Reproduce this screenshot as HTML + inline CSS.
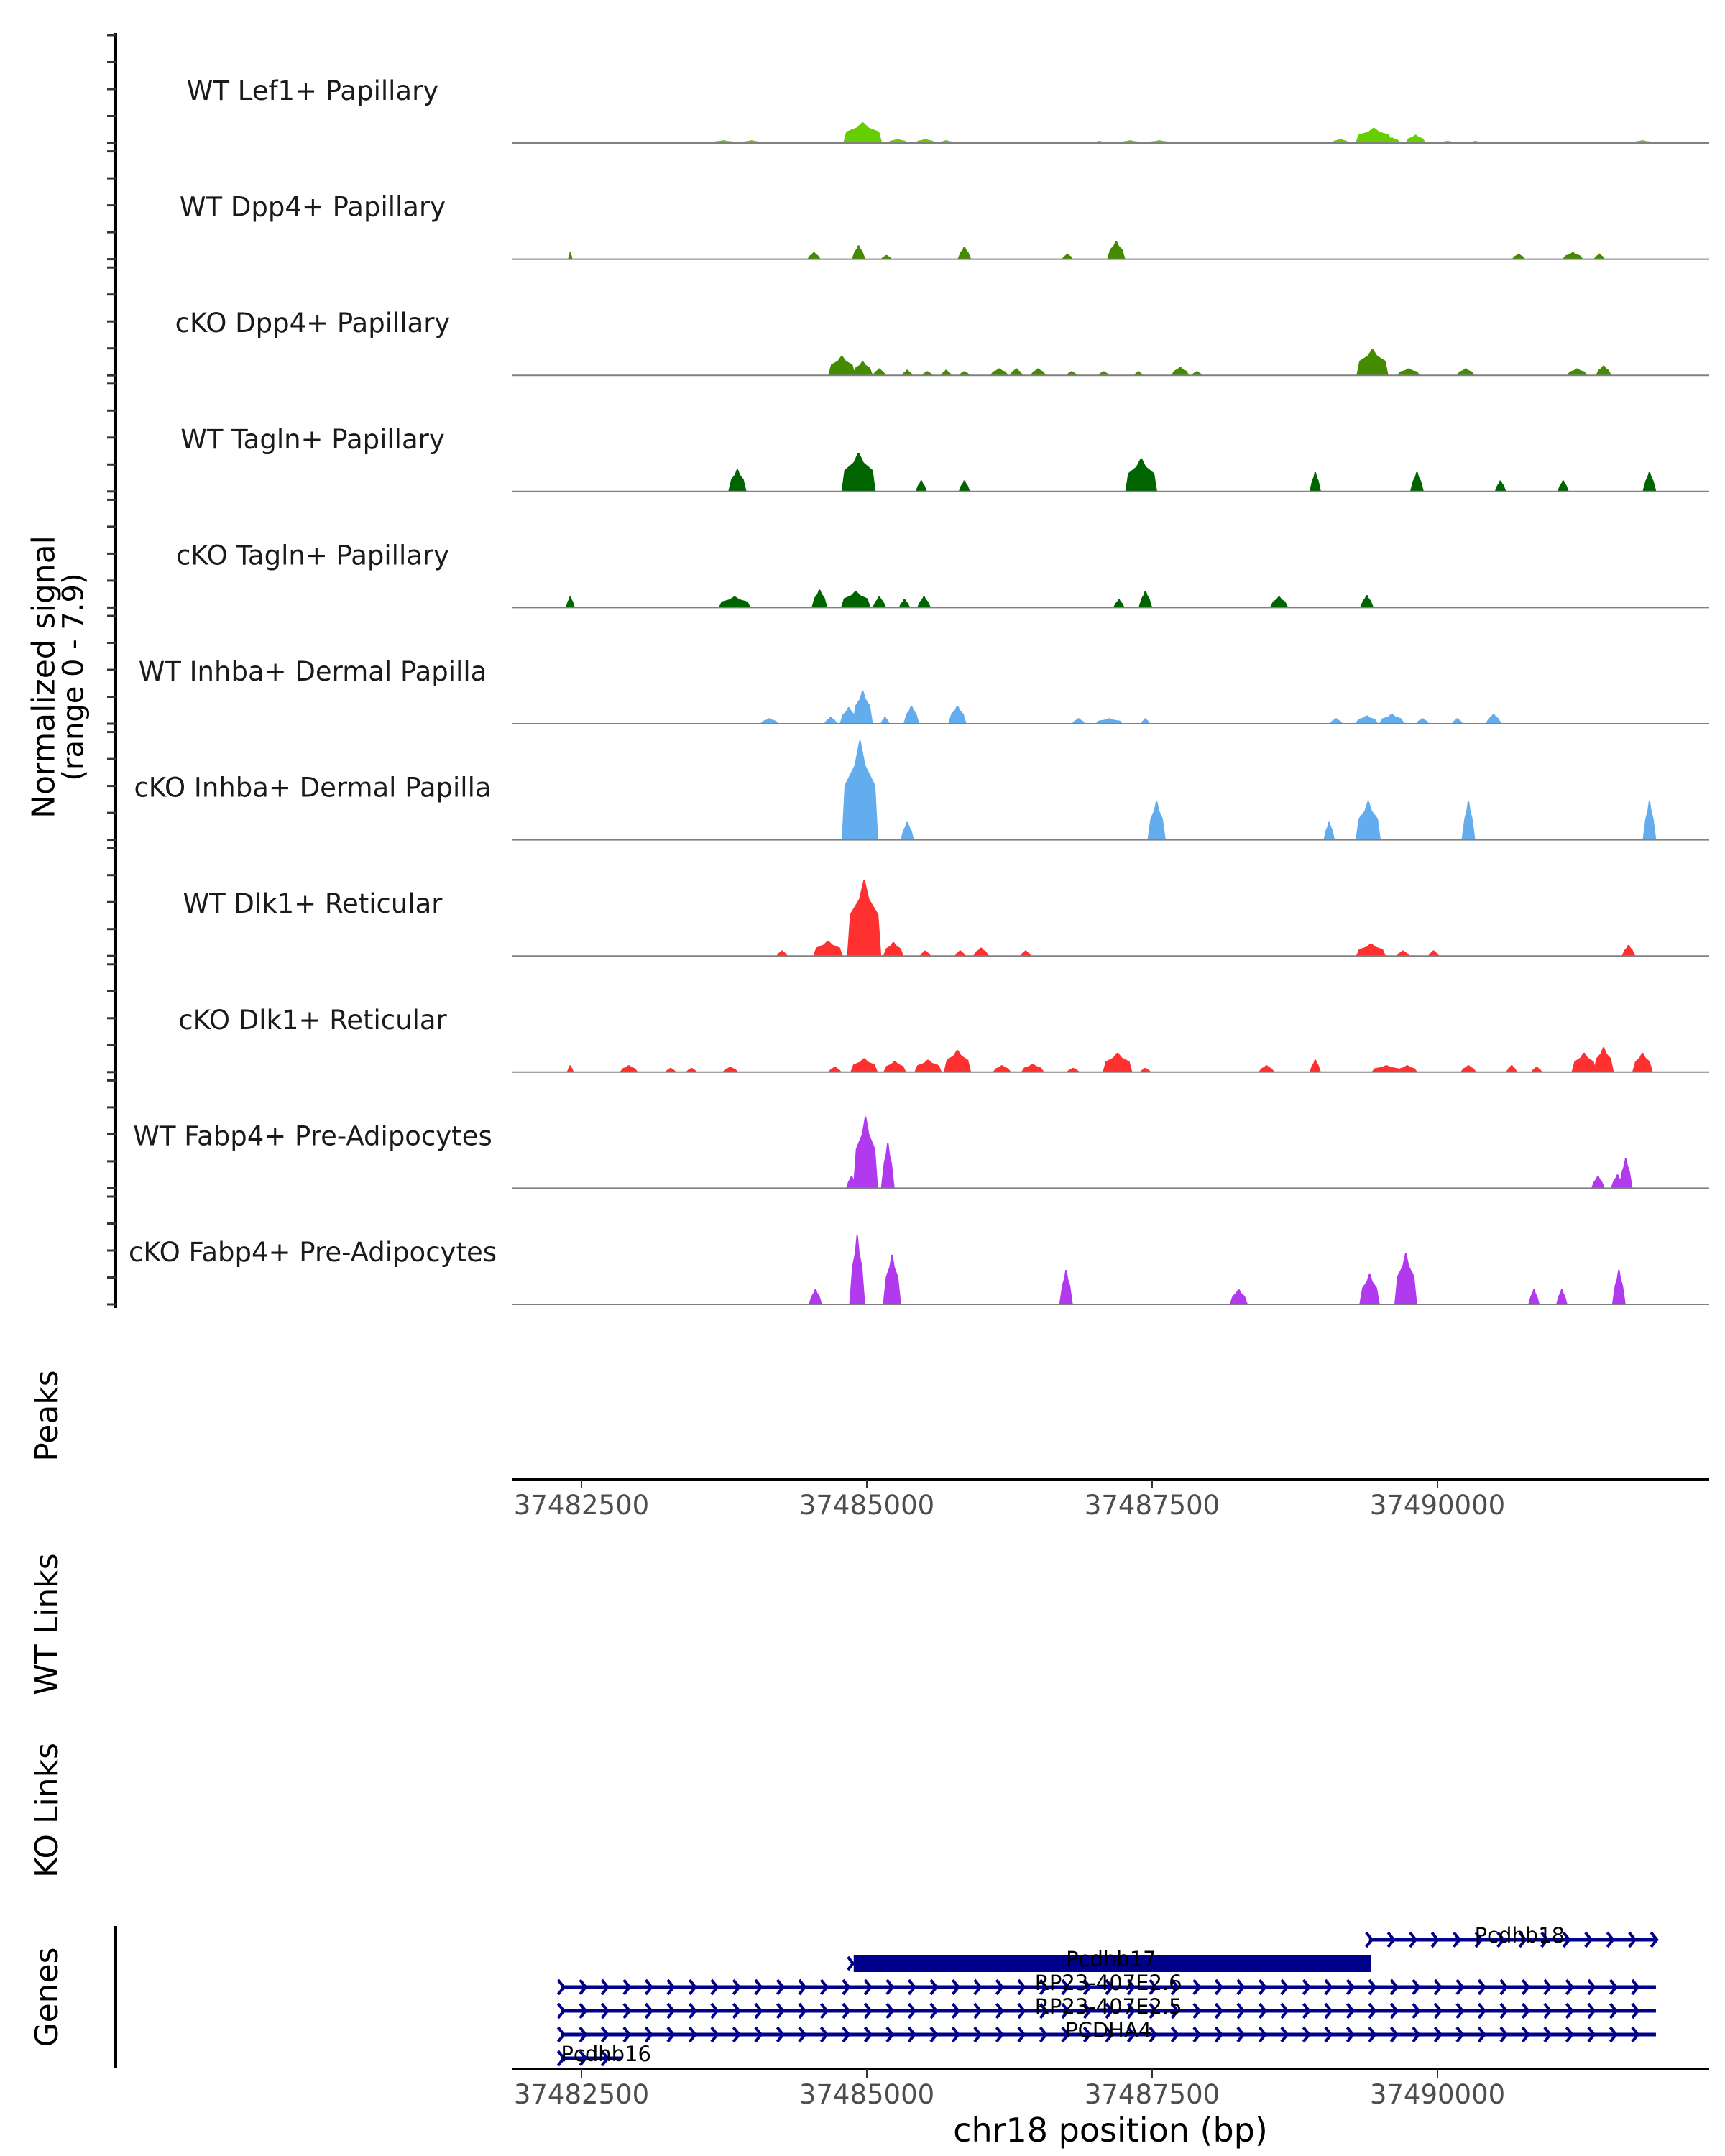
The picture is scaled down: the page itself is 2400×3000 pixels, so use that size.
<!DOCTYPE html>
<html><head><meta charset="utf-8"><style>
html,body{margin:0;padding:0;background:#fff;}
svg{display:block;font-family:"DejaVu Sans","Liberation Sans",sans-serif;}
</style></head><body>
<svg id="chart" width="2400" height="3000" viewBox="0 0 2400 3000" xmlns="http://www.w3.org/2000/svg">
<g id="tracks"></g>
<g id="axes"></g>
<g id="genes"></g>
</svg>
<script>
const trackNames = ["WT Lef1+ Papillary","WT Dpp4+ Papillary","cKO Dpp4+ Papillary","WT Tagln+ Papillary","cKO Tagln+ Papillary","WT Inhba+ Dermal Papilla","cKO Inhba+ Dermal Papilla","WT Dlk1+ Reticular","cKO Dlk1+ Reticular","WT Fabp4+ Pre-Adipocytes","cKO Fabp4+ Pre-Adipocytes"];
const trackColors = ["#66CD00","#458B00","#458B00","#006400","#006400","#63ADEE","#63ADEE","#FF3030","#FF3030","#B23AEE","#B23AEE"];
// peaks: [center bp, half-width bp, value]
const lef1WT = [[37483744,110,0.2],[37483990,90,0.2],[37484964,170,1.5],[37485270,90,0.3],[37485513,90,0.3],[37485696,70,0.2],[37486733,60,0.1],[37487038,70,0.15],[37487307,90,0.2],[37487563,100,0.2],[37488136,60,0.1],[37488319,60,0.1],[37489149,80,0.3],[37489442,160,1.1],[37489600,80,0.4],[37489808,90,0.6],[37490088,110,0.15],[37490332,80,0.15],[37490820,60,0.1],[37491003,60,0.1],[37491796,90,0.2]];
const dpp4WT = [[37482402,20,0.5],[37484537,60,0.5],[37484928,60,1.0],[37485172,50,0.3],[37485855,60,0.9],[37486758,50,0.4],[37487185,80,1.3],[37490711,60,0.4],[37491186,90,0.5],[37491418,50,0.4]];
const dpp4KO = [[37484781,120,1.4],[37484964,90,1.0],[37485110,60,0.5],[37485355,50,0.4],[37485530,50,0.3],[37485696,50,0.4],[37485855,50,0.3],[37486160,80,0.5],[37486310,60,0.5],[37486502,70,0.5],[37486795,50,0.3],[37487075,50,0.3],[37487380,40,0.3],[37487746,80,0.6],[37487892,50,0.3],[37489430,140,1.9],[37489747,100,0.5],[37490247,80,0.5],[37491223,90,0.5],[37491455,70,0.7]];
const taglnWT = [[37483866,80,1.6],[37484928,150,2.8],[37485477,50,0.8],[37485855,50,0.8],[37487404,140,2.4],[37488929,50,1.4],[37489820,60,1.4],[37490552,50,0.8],[37491101,50,0.8],[37491857,60,1.4]];
const taglnKO = [[37482402,40,0.8],[37483842,140,0.8],[37484586,70,1.3],[37484903,130,1.2],[37485110,60,0.8],[37485330,50,0.6],[37485501,60,0.8],[37487209,50,0.6],[37487441,60,1.2],[37488612,80,0.8],[37489381,60,0.9]];
const inhbaWT = [[37484147,80,0.4],[37484684,60,0.5],[37484842,80,1.2],[37484964,90,2.4],[37485160,40,0.5],[37485391,70,1.3],[37485794,80,1.3],[37486855,60,0.4],[37487124,120,0.4],[37487441,40,0.4],[37489112,60,0.4],[37489380,100,0.6],[37489600,110,0.7],[37489869,60,0.4],[37490174,50,0.4],[37490491,70,0.7]];
const inhbaKO = [[37484940,160,7.2],[37485355,60,1.3],[37487539,80,2.8],[37489051,50,1.3],[37489393,110,2.8],[37490271,60,2.8],[37491857,60,2.8]];
const dlk1WT = [[37484257,50,0.4],[37484660,130,1.1],[37484977,150,5.5],[37485233,90,1.0],[37485513,50,0.4],[37485818,50,0.4],[37486001,70,0.6],[37486392,50,0.4],[37489417,130,0.9],[37489698,60,0.4],[37489966,50,0.4],[37491674,60,0.8]];
const dlk1KO = [[37482402,30,0.5],[37482915,80,0.5],[37483281,50,0.3],[37483464,50,0.3],[37483805,70,0.4],[37484720,60,0.4],[37484976,120,1.0],[37485245,100,0.8],[37485537,120,0.9],[37485794,120,1.6],[37486184,80,0.5],[37486453,100,0.6],[37486807,60,0.3],[37487197,130,1.4],[37487441,50,0.3],[37488502,70,0.5],[37488929,50,0.9],[37489552,130,0.5],[37489735,90,0.5],[37490271,70,0.5],[37490650,50,0.5],[37490869,50,0.4],[37491284,110,1.4],[37491455,90,1.8],[37491796,90,1.4]];
const fabp4WT = [[37484867,50,0.9],[37484989,110,5.2],[37485184,60,3.3],[37491406,60,0.9],[37491577,60,1.0],[37491650,60,2.2]];
const fabp4KO = [[37484550,60,1.1],[37484916,70,5.0],[37485221,80,3.6],[37486746,60,2.5],[37488258,80,1.1],[37489405,90,2.2],[37489722,100,3.7],[37490845,50,1.1],[37491089,50,1.1],[37491589,60,2.5]];
const trackPeaks = [lef1WT,dpp4WT,dpp4KO,taglnWT,taglnKO,inhbaWT,inhbaKO,dlk1WT,dlk1KO,fabp4WT,fabp4KO];
const xTicks = [37482500,37485000,37487500,37490000];
const geneNames = ["Pcdhb18","Pcdhb17","RP23-407E2.6","RP23-407E2.5","PCDHA4","Pcdhb16"];
const geneStarts = [37489400,37484860,37482320,37482320,37482320,37482320];
const geneEnds = [37491914,37489420,37491914,37491914,37491914,37482860];

const NS="http://www.w3.org/2000/svg";
const X0=712,X1=2378, bp0=37482500, pxPerBp=397/2500, refX=809;
function xs(bp){return refX+(bp-bp0)*pxPerBp;}
const base0=199, trackStep=161.6, pxPerUnit=19.2;
function ys(i,v){return base0+i*trackStep - v*pxPerUnit;}
function mk(tag,attrs,parent){const e=document.createElementNS(NS,tag);for(const k in attrs)e.setAttribute(k,attrs[k]);parent.appendChild(e);return e;}

const T=document.getElementById('tracks');
trackNames.forEach((name,i)=>{
  const g=mk('g',{},T);
  
  
  const lbl=mk('text',{x:435,y:ys(i,0)-60,'text-anchor':'middle','font-size':37,fill:'#1a1a1a'},g);
  lbl.textContent=name;
  
  
  trackPeaks[i].forEach(p=>{
    const c=p[0],hw=p[1],v=p[2];
    const a=xs(c-hw),b=xs(c+hw),cx=xs(c),w=b-a,t=Math.min(4,w/5);
    const y0=ys(i,0);
    const pts=[[a,y0],[a+t,ys(i,v*0.55)],[cx-w*0.15,ys(i,v*0.75)],[cx-1,ys(i,v)],[cx+1,ys(i,v)],[cx+w*0.15,ys(i,v*0.75)],[b-t,ys(i,v*0.55)],[b,y0]];
    const pg=mk('polygon',{points:pts.map(q=>q.join(',')).join(' '),fill:trackColors[i]},g);
    
    
  });
  const bl=mk('line',{x1:X0,x2:X1,y1:ys(i,0),y2:ys(i,0),stroke:'#808080','stroke-width':2},g);
  
  
});

const A=document.getElementById('axes');
const yax=mk('line',{x1:161,x2:161,y1:46,y2:1820,stroke:'#000','stroke-width':4},A);


for(let i=0;i<11;i++){for(let k=0;k<5;k++){const y=ys(i,0)-k*37.5;
  const tk=mk('line',{x1:149,x2:161,y1:y,y2:y,stroke:'#333','stroke-width':3},A);
  
  }}
const yt=mk('text',{transform:'translate(80,942) rotate(-90)','text-anchor':'middle','font-size':44,fill:'#000'},A);


yt.innerHTML='<tspan x="0" dy="-0.1em">Normalized signal</tspan><tspan x="0" dy="1.0em" font-size="40">(range 0 - 7.9)</tspan>';
[["Peaks",1970],["WT Links",2260],["KO Links",2519],["Genes",2779]].forEach(s=>{
  const t=mk('text',{transform:`translate(80,${s[1]}) rotate(-90)`,'text-anchor':'middle','font-size':44,fill:'#000'},A);
  t.textContent=s[0];
  
  
});
function xAxis(y,name){
  const l=mk('line',{x1:X0,x2:X1,y1:y,y2:y,stroke:'#000','stroke-width':4},A);
  
  
  xTicks.forEach(v=>{
    const tk=mk('line',{x1:xs(v),x2:xs(v),y1:y,y2:y+12,stroke:'#333','stroke-width':2},A);
    
    
    const tl=mk('text',{x:xs(v),y:y+48,'text-anchor':'middle','font-size':37,fill:'#4d4d4d'},A);
    tl.textContent=v;
    
    
  });
}
xAxis(2059,'peaks-x-axis');
xAxis(2879,'genes-x-axis');
const xt=mk('text',{x:1545,y:2980,'text-anchor':'middle','font-size':46,fill:'#000'},A);
xt.textContent='chr18 position (bp)';


const gl=mk('line',{x1:161,x2:161,y1:2680,y2:2878,stroke:'#000','stroke-width':4},A);



const G=document.getElementById('genes');
const rowY=[2699,2732,2765,2798,2831,2864];
geneNames.forEach((n,i)=>{
  const g=mk('g',{},G);
  
  
  const a=xs(geneStarts[i]),b=xs(geneEnds[i]),y=rowY[i];
  if(i===1){
    mk('rect',{x:a+4,y:y-12,width:b-a-4,height:24,fill:'#00008B'},g);
    mk('polyline',{points:`${a-4},${y-9} ${a+3},${y} ${a-4},${y+9}`,fill:'none',stroke:'#00008B','stroke-width':4},g);
  } else {
    mk('line',{x1:a,x2:b,y1:y,y2:y,stroke:'#00008B','stroke-width':5},g);
    for(let x=a;x<=b;x+=30.5){
      mk('polyline',{points:`${x-4},${y-10} ${x+4},${y} ${x-4},${y+10}`,fill:'none',stroke:'#00008B','stroke-width':4},g);
    }
  }
  const tx = i===5 ? a : (i===0 ? (a+b)/2+10 : (a+b)/2);
  const t=mk('text',{x:tx,y:y+4,'text-anchor':i===5?'start':'middle','font-size':29,fill:'#000'},g);
  t.textContent=n;
});
</script>
</body></html>
